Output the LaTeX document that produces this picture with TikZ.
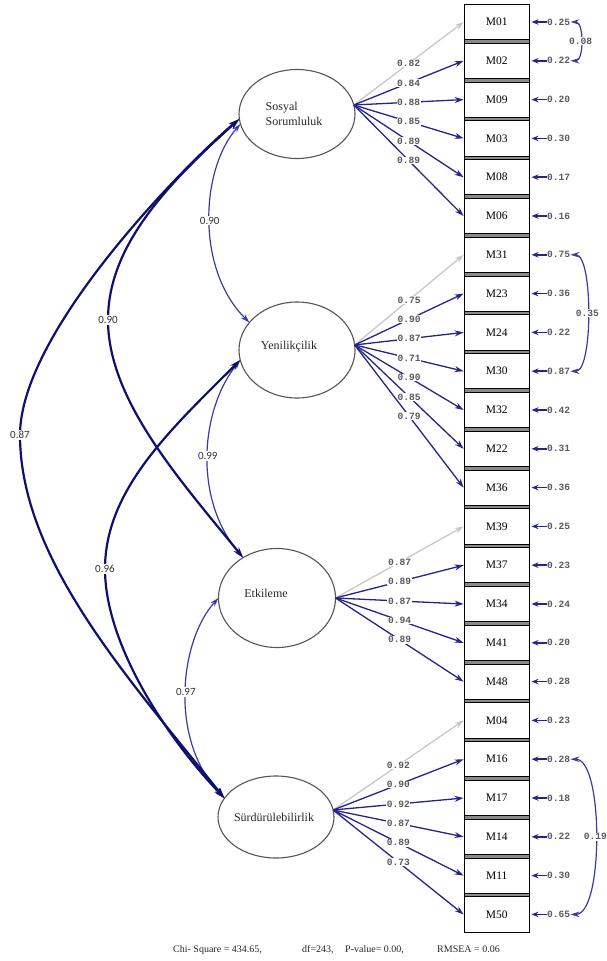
\documentclass[tikz,border=0pt]{standalone}
\usepackage{fontspec}
\setmainfont{Liberation Serif}
\newfontfamily\monof{Liberation Mono}
\newfontfamily\covf{Carlito}
\usetikzlibrary{shapes.geometric,arrows.meta}
\definecolor{navy}{HTML}{24248A}
\definecolor{navydark}{HTML}{0F0F6E}
\definecolor{navythin}{HTML}{3A3AA0}
\definecolor{loadgray}{HTML}{C8C8C8}
\definecolor{ellgray}{HTML}{555555}
\definecolor{numgray}{HTML}{5A5A5A}
\definecolor{sepgray}{HTML}{8A8A8A}
\tikzset{
  mbox/.style={draw=black, line width=0.9pt, fill=white, minimum width=65.5pt, minimum height=35.3pt, inner sep=0pt, font=\fontsize{11.5}{12}\selectfont},
  lat/.style={ellipse, draw=ellgray, line width=1.1pt, inner sep=0pt, outer sep=0pt},
  lattext/.style={font=\fontsize{12}{15}\selectfont, align=left, inner sep=0pt, text=black!85},
  errlab/.style={anchor=west, inner sep=0pt, font=\monof\bfseries\fontsize{9.6}{10}\selectfont, text=numgray},
  covmono/.style={inner sep=0.8pt, fill=white, font=\monof\bfseries\fontsize{9.6}{10}\selectfont, text=numgray},
  ldlab/.style={inner sep=0.6pt, fill=white, font=\monof\bfseries\fontsize{9.6}{10}\selectfont, text=numgray},
  load/.style={draw=navy, line width=1.3pt, -{Stealth[length=9pt,width=6pt]}},
  loadg/.style={draw=loadgray, line width=1.3pt, -{Stealth[length=9pt,width=6pt]}},
  errarr/.style={draw=navy, line width=1.6pt, -{Stealth[length=7pt,width=5.5pt]}, shorten >=1.5pt},
  covthick/.style={draw=navydark, line width=2.2pt, {Stealth[length=11pt,width=6.5pt]}-{Stealth[length=11pt,width=6.5pt]}},
  covthin/.style={draw=navythin, line width=1.2pt, {Stealth[length=9pt,width=5.5pt]}-{Stealth[length=9pt,width=5.5pt]}},
  covlab/.style={inner sep=1pt, fill=white, font=\covf\fontsize{11}{12}\selectfont, text=black!80},
  foot/.style={anchor=base west, inner sep=0pt, font=\fontsize{10}{12}\selectfont, text=black!85}
}
\begin{document}
\begin{tikzpicture}[x=1pt,y=-1pt]
\useasboundingbox (0,0) rectangle (607,961);
% indicator column
\fill[sepgray] (464,4.3) rectangle (529.5,932.2);
\foreach \n/\v [count=\i from 0] in {M01/0.25,M02/0.22,M09/0.20,M03/0.30,M08/0.17,M06/0.16,M31/0.75,M23/0.36,M24/0.22,M30/0.87,M32/0.42,M22/0.31,M36/0.36,M39/0.25,M37/0.23,M34/0.24,M41/0.20,M48/0.28,M04/0.23,M16/0.28,M17/0.18,M14/0.22,M11/0.30,M50/0.65}{
  \node[mbox] (\n) at (496.8,{22+38.8*\i}) {\n};
  \node[errlab] (e\n) at (547,{22+38.8*\i}) {\v};
  \draw[errarr] (e\n.west) -- (\n.east);
}
\draw[line width=0.9pt] (464,4.3) rectangle (529.5,932.2);
% latent variables
\node[lat, minimum width=116pt, minimum height=89pt] (SS) at (297,114) {};
\node[lattext] (SSt) at (294,114) {Sosyal\\Sorumluluk};
\node[lat, minimum width=116pt, minimum height=96pt] (YE) at (297,350) {};
\node[lattext] (YEt) at (289,347) {Yenilikçilik};
\node[lat, minimum width=117pt, minimum height=99pt] (ET) at (277,598) {};
\node[lattext] (ETt) at (266,593) {Etkileme};
\node[lat, minimum width=116pt, minimum height=82pt] (SU) at (276,817) {};
\node[lattext] (SUt) at (274,817) {Sürdürülebilirlik};
% loadings
\draw[loadg] (SS.9) -- node[ldlab] (l01) {0.82} (M01.west);
\foreach \m/\l in {M02/0.84,M09/0.88,M03/0.85,M08/0.89,M06/0.89}{
  \draw[load] (SS.9) -- node[ldlab] (l\m) {\l} (\m.west);
}
\draw[loadg] (YE.5) -- node[ldlab] (l31) {0.75} (M31.west);
\foreach \m/\l in {M23/0.90,M24/0.87,M30/0.71,M32/0.90,M22/0.85,M36/0.79}{
  \draw[load] (YE.5) -- node[ldlab] (l\m) {\l} (\m.west);
}
\draw[loadg] (ET.east) -- node[ldlab] (l39) {0.87} (M39.west);
\foreach \m/\l in {M37/0.89,M34/0.87,M41/0.94,M48/0.89}{
  \draw[load] (ET.east) -- node[ldlab] (l\m) {\l} (\m.west);
}
\draw[loadg] (SU.7) -- node[ldlab] (l04) {0.92} (M04.west);
\foreach \m/\l in {M16/0.90,M17/0.92,M14/0.87,M11/0.89,M50/0.73}{
  \draw[load] (SU.7) -- node[ldlab] (l\m) {\l} (\m.west);
}
% error covariances
\draw[covthin] (eM01.east) to[out=0,in=0,looseness=0.9] node[covmono] (c0102) {0.08} (eM02.east);
\draw[covthin] (eM31.east) to[out=0,in=0,looseness=0.5] node[covmono] (c3130) {0.35} (eM30.east);
\draw[covthin] (eM16.east) to[out=0,in=0,looseness=0.55] node[covmono] (c1650) {0.19} (eM50.east);
% latent covariances
\draw[covthin] (SS.190) .. controls (200,170) and (196,270) .. node[covlab] (cSY) {0.90} (YE.150);
\draw[covthin] (YE.190) .. controls (200,410) and (193,500) .. node[covlab] (cYE) {0.99} (ET.130);
\draw[covthin] (ET.west) .. controls (180,640) and (168,740) .. node[covlab] (cES) {0.97} (SU.160);
\draw[covthick] (SS.185) .. controls (160,190) and (108,250) .. (108,320) node[covlab] (cSE) {0.90}
   .. controls (108,400) and (180,480) .. (ET.130);
\draw[covthick] (SS.185) .. controls (190,160) and (20,330) .. (20,435) node[covlab] (cSU) {0.87}
   .. controls (20,560) and (130,680) .. (SU.160);
\draw[covthick] (YE.190) .. controls (170,430) and (105,490) .. (105,569) node[covlab] (cYS) {0.96}
   .. controls (105,640) and (160,730) .. (SU.160);
% fit statistics
\node[foot] (f1) at (173,952) {Chi- Square = 434.65,};
\node[foot] (f2) at (302,952) {df=243,};
\node[foot] (f3) at (345,952) {P-value= 0.00,};
\node[foot] (f4) at (437,952) {RMSEA = 0.06};
\end{tikzpicture}
\end{document}
